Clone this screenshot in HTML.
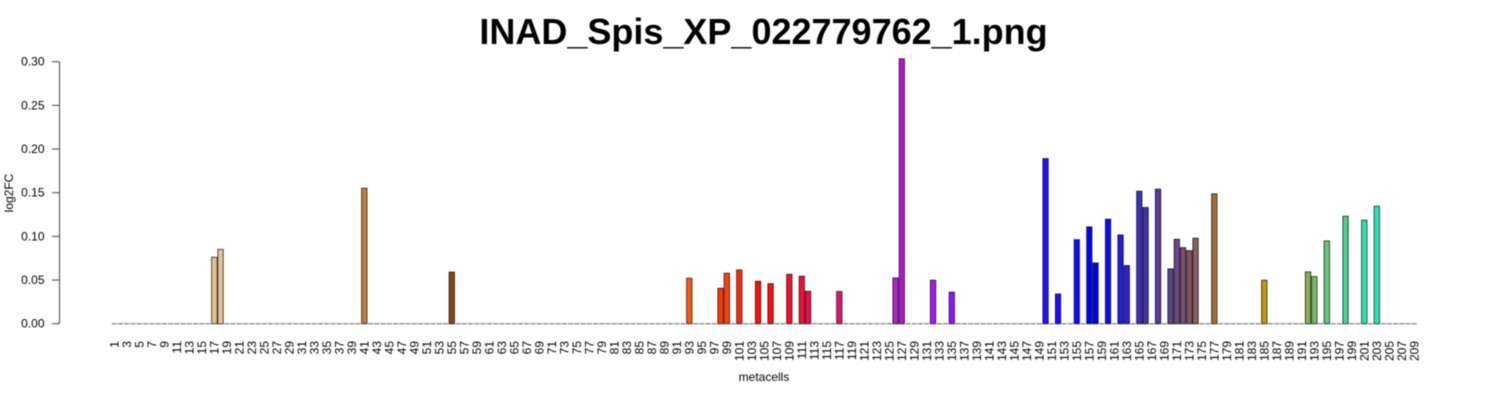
<!DOCTYPE html>
<html lang="en">
<head>
<meta charset="utf-8">
<title>INAD_Spis_XP_022779762_1.png</title>
<style>
html,body{margin:0;padding:0;background:#fff;width:1500px;height:400px;overflow:hidden}
svg{display:block;font-family:"Liberation Sans",sans-serif;fill:#000}
</style>
</head>
<body>
<svg id="chart" width="1500" height="400" viewBox="0 0 1500 400" xmlns="http://www.w3.org/2000/svg">
<defs><filter id="soft" filterUnits="userSpaceOnUse" x="0" y="0" width="1500" height="400"><feGaussianBlur stdDeviation="0.4"/></filter></defs>
<rect width="1500" height="400" fill="#fff"/>
<g id="plot" filter="url(#soft)">
<text x="763.5" y="44" text-anchor="middle" font-size="36" font-weight="bold">INAD_Spis_XP_022779762_1.png</text>
<text x="764" y="381" text-anchor="middle" font-size="12">metacells</text>
<text transform="translate(13,193) rotate(-90)" text-anchor="middle" font-size="12">log2FC</text>
<g id="yaxis"></g>
<g id="xaxis"></g>
<g id="bars"></g>
</g>
</svg>
<script>
const log2fc = [
0,0,0,0,0,0,0,0,0,0,
0,0,0,0,0,0,.076,.085,0,0,
0,0,0,0,0,0,0,0,0,0,
0,0,0,0,0,0,0,0,0,0,
.155,0,0,0,0,0,0,0,0,0,
0,0,0,0,.059,0,0,0,0,0,
0,0,0,0,0,0,0,0,0,0,
0,0,0,0,0,0,0,0,0,0,
0,0,0,0,0,0,0,0,0,0,
0,0,.052,0,0,0,0,.0405,.0577,0,
.0615,0,0,.0485,0,.0458,0,0,.0565,0,
.0543,.037,0,0,0,0,.0368,0,0,0,
0,0,0,0,0,.0523,.3033,0,0,0,
0,.0497,0,0,.036,0,0,0,0,0,
0,0,0,0,0,0,0,0,0,.189,
0,.034,0,0,.0962,0,.1108,.0695,0,.1196,
0,.1016,.0665,0,.1516,.133,0,.154,0,.0627,
.0966,.087,.0836,.0978,0,0,.1486,0,0,0,
0,0,0,0,.0497,0,0,0,0,0,
0,.0592,.0538,0,.0947,0,0,.123,0,0,
.1184,0,.1344,0,0,0,0,0,0
];
const xTickLabels = [1,3,5,7,9,11,13,15,17,19,21,23,25,27,29,31,33,35,37,39,41,43,45,47,49,51,53,55,57,59,61,63,65,67,69,71,73,75,77,79,81,83,85,87,89,91,93,95,97,99,101,103,105,107,109,111,113,115,117,119,121,123,125,127,129,131,133,135,137,139,141,143,145,147,149,151,153,155,157,159,161,163,165,167,169,171,173,175,177,179,181,183,185,187,189,191,193,195,197,199,201,203,205,207,209];
const yTickLabels = ["0.00","0.05","0.10","0.15","0.20","0.25","0.30"];
const barColors = {17:'#e3c096',18:'#e6c399',41:'#bf7f42',55:'#8b4513',93:'#fb5a0d',98:'#f83c05',99:'#fd400a',101:'#fe2a0a',104:'#ff0c0c',106:'#ff080e',109:'#fa0a2c',111:'#f20a3c',112:'#ec0e48',117:'#da166e',126:'#ac25c8',127:'#b418d0',132:'#a41ef0',135:'#8c18f8',150:'#2a0cff',152:'#200cff',155:'#0c0cfa',157:'#0606f8',158:'#0404f0',160:'#1010ea',162:'#281ce0',163:'#2e22d0',165:'#3e2eb8',166:'#4232ae',168:'#553c9c',170:'#5e4488',171:'#6c4a82',172:'#784f72',173:'#7f5566',174:'#8a6060',177:'#a06e3c',185:'#bc9a18',192:'#88b05a',193:'#7aba66',195:'#6cc47c',198:'#4cd290',201:'#32e0ac',203:'#2ae4bc'};

const NS = 'http://www.w3.org/2000/svg';
const xScale = function (id) { return 114.3 + (id - 1) * 6.25; };
const yScale = function (v) { return 323.7 - v * 873.3; };
const make = function (tag, parent) {
  const el = document.createElementNS(NS, tag);
  parent.appendChild(el);
  return el;
};

const yAxisGroup = document.getElementById('yaxis');
const yLine = make('line', yAxisGroup);


yLine.setAttribute('x1', 59.5);
yLine.setAttribute('x2', 59.5);
yLine.setAttribute('y1', yScale(Number(yTickLabels[0])));
yLine.setAttribute('y2', yScale(Number(yTickLabels[yTickLabels.length - 1])));
yLine.setAttribute('stroke', '#444');
yLine.setAttribute('stroke-width', '1');
yTickLabels.forEach(function (label) {
  const y = yScale(Number(label));
  const tick = make('line', yAxisGroup);
  
  
  tick.setAttribute('x1', 52);
  tick.setAttribute('x2', 59.5);
  tick.setAttribute('y1', y);
  tick.setAttribute('y2', y);
  tick.setAttribute('stroke', '#444');
  tick.setAttribute('stroke-width', '1');
  const text = make('text', yAxisGroup);
  
  
  text.setAttribute('x', 44.5);
  text.setAttribute('y', y + 4);
  text.setAttribute('text-anchor', 'end');
  text.setAttribute('font-size', '12');
  text.textContent = label;
});

const xAxisGroup = document.getElementById('xaxis');
xTickLabels.forEach(function (label) {
  const text = make('text', xAxisGroup);
  
  
  text.setAttribute('transform', 'translate(' + (xScale(label) + 4) + ',341) rotate(-90)');
  text.setAttribute('text-anchor', 'end');
  text.setAttribute('font-size', '12');
  text.textContent = label;
});

const barsGroup = document.getElementById('bars');
log2fc.forEach(function (value, index) {
  const id = index + 1;
  const barWidth = 5.2;
  const top = yScale(value);
  const bar = make('rect', barsGroup);
  
  
  bar.setAttribute('x', xScale(id) - barWidth / 2);
  if (value === 0) {
    bar.setAttribute('y', top - 0.5);
    bar.setAttribute('width', barWidth);
    bar.setAttribute('height', 1);
    bar.setAttribute('fill', '#666');
  } else {
    bar.setAttribute('y', top);
    bar.setAttribute('width', barWidth);
    bar.setAttribute('height', yScale(0) - top);
    bar.setAttribute('fill', barColors[id] || '#888');
    bar.setAttribute('stroke', '#111');
    bar.setAttribute('stroke-width', '0.9');
  }
});
</script>
</body>
</html>
